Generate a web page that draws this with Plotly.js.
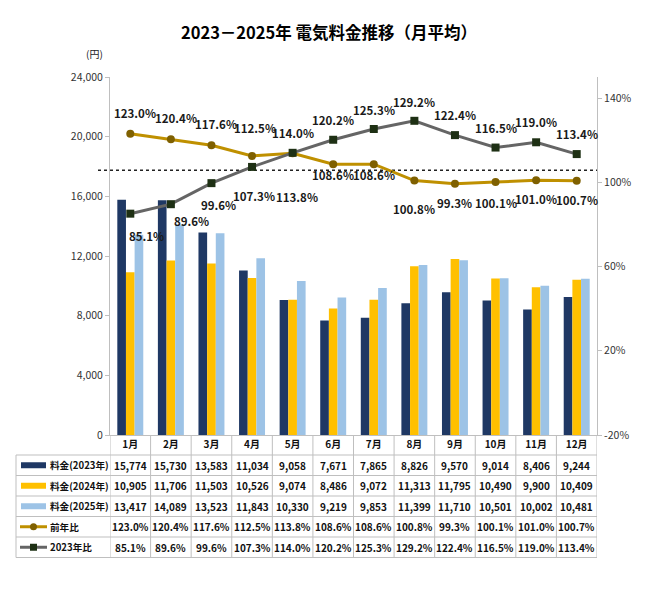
<!DOCTYPE html>
<html><head><meta charset="utf-8">
<script src="https://cdn.plot.ly/plotly-3.0.1.min.js"></script>
<style>html,body{margin:0;padding:0;background:#fff}#chart{width:650px;height:607px}</style>
</head><body><div id="chart"></div>
<script>
// ---- data ----
const months = ['1月','2月','3月','4月','5月','6月','7月','8月','9月','10月','11月','12月'];
const fee2023 = [15774,15730,13583,11034,9058,7671,7865,8826,9570,9014,8406,9244];
const fee2024 = [10905,11706,11503,10526,9074,8486,9072,11313,11795,10490,9900,10409];
const fee2025 = [13417,14089,13523,11843,10330,9219,9853,11399,11710,10501,10002,10481];
const yoyRatio = [123.0,120.4,117.6,112.5,113.8,108.6,108.6,100.8,99.3,100.1,101.0,100.7];
const vs2023Ratio = [85.1,89.6,99.6,107.3,114.0,120.2,125.3,129.2,122.4,116.5,119.0,113.4];
const seriesNames = ['料金(2023年)','料金(2024年)','料金(2025年)','前年比','2023年比'];
const leftTicks = [0,4000,8000,12000,16000,20000,24000];
const rightTicks = [-20,20,60,100,140];
const refLineYen = 17750;

// ---- styling / placement (pixels) ----
const W=650,H=607,L=110,R=597,T=77,B=435;
const px = X => (X-L)/(R-L);
const py = Y => (B-Y)/(B-T);
const FONT = '"Noto Sans CJK JP", "Noto Sans", sans-serif';
const C = {n:'#1F3864', y:'#FFC000', b:'#9DC3E6', gold:'#BF9000', goldM:'#7F6000', gray:'#656565', grayM:'#1E3014', grid:'#BFBFBF', txt:'#1a1a1a'};
const yoyDy = [-21,-21,-21,-28,44,11,11,28,19,21,19,19];
const yoyDx = [5,5,5,3,4,0,0,0,0,0,0,0];
const vsDy  = [22,17,22,29,-20,-20,-19,-19,-20,-20,-20,-20];
const vsDx  = [16,21,7,2,0,0,0,0,0,0,0,0];

const traces = [
  {type:'bar', x:months, y:fee2023, name:seriesNames[0], marker:{color:C.n}},
  {type:'bar', x:months, y:fee2024, name:seriesNames[1], marker:{color:C.y}},
  {type:'bar', x:months, y:fee2025, name:seriesNames[2], marker:{color:C.b}},
  {type:'scatter', mode:'lines+markers', x:months, y:yoyRatio, yaxis:'y2', name:seriesNames[3],
   line:{color:C.gold, width:3}, marker:{symbol:'circle', size:8, color:C.goldM}},
  {type:'scatter', mode:'lines+markers', x:months, y:vs2023Ratio, yaxis:'y2', name:seriesNames[4],
   line:{color:C.gray, width:3}, marker:{symbol:'square', size:8, color:C.grayM}}
];

const annotations = [];
const shapes = [];
const ctr = {xanchor:'center', yanchor:'middle', showarrow:false};
const lblFont = {family:FONT, size:11.5, color:C.txt, weight:'bold'};
// point labels
months.forEach((m,i)=>{
  annotations.push(Object.assign({xref:'x', yref:'y2', x:m, y:yoyRatio[i], text:yoyRatio[i].toFixed(1)+'%',
    xshift:yoyDx[i], yshift:-yoyDy[i], font:lblFont}, ctr));
  annotations.push(Object.assign({xref:'x', yref:'y2', x:m, y:vs2023Ratio[i], text:vs2023Ratio[i].toFixed(1)+'%',
    xshift:vsDx[i], yshift:-vsDy[i], font:lblFont}, ctr));
});

// reference dotted line
shapes.push({type:'line', xref:'paper', yref:'y', x0:px(98), x1:1, y0:refLineYen, y1:refLineYen,
  line:{color:'#222', width:1.5, dash:'dot'}, layer:'below'});

// data table
const rowBorders = [455,475.5,496,516.5,537,557.5];
const rows = [
  fee2023.map(v=>v.toLocaleString('en-US')),
  fee2024.map(v=>v.toLocaleString('en-US')),
  fee2025.map(v=>v.toLocaleString('en-US')),
  yoyRatio.map(v=>v.toFixed(1)+'%'),
  vs2023Ratio.map(v=>v.toFixed(1)+'%')
];
rowBorders.forEach(Y=>{
  shapes.push({type:'line', xref:'paper', yref:'paper', x0:px(16), x1:1, y0:py(Y), y1:py(Y), line:{color:C.grid, width:1}});
});
shapes.push({type:'line', xref:'paper', yref:'paper', x0:px(16), x1:px(16), y0:py(455), y1:py(557.5), line:{color:C.grid, width:1}});
for(let k=0;k<=months.length;k++){
  shapes.push({type:'line', xref:'x', yref:'paper', x0:k-0.5, x1:k-0.5, y0:0, y1:py(557.5), line:{color:C.grid, width:1}});
}
const cellFont = {family:FONT, size:10, color:'#111', weight:'bold'};
rows.forEach((row,r)=>{
  const Yc=(rowBorders[r]+rowBorders[r+1])/2;
  const cy = py(Yc);
  row.forEach((t,i)=>{
    annotations.push(Object.assign({xref:'x', yref:'paper', x:months[i], y:cy, text:t, font:cellFont}, ctr));
  });
  annotations.push({xref:'paper', yref:'paper', x:px(48), y:cy, xanchor:'left', yanchor:'middle', text:seriesNames[r], showarrow:false,
    font:{family:FONT, size:9.6, color:'#111', weight:'bold'}});
  if(r<3){
    const col=[C.n,C.y,C.b][r];
    shapes.push({type:'rect', xref:'paper', yref:'paper', x0:px(21), x1:px(46), y0:py(Yc-3), y1:py(Yc+3), fillcolor:col, line:{width:0}});
  } else {
    const lc = r===3?C.gold:C.gray, mc = r===3?C.goldM:C.grayM;
    shapes.push({type:'line', xref:'paper', yref:'paper', x0:px(20), x1:px(47), y0:py(Yc), y1:py(Yc), line:{color:lc, width:3}});
    shapes.push({type:r===3?'circle':'rect', xref:'paper', yref:'paper', x0:px(30), x1:px(37), y0:py(Yc+3.5), y1:py(Yc-3.5), fillcolor:mc, line:{width:0}});
  }
});
// unit label
annotations.push(Object.assign({xref:'paper', yref:'paper', x:px(94), y:py(53), text:'(円)', font:{family:FONT, size:10, color:'#222'}}, ctr));

const layout = {
  width:W, height:H, margin:{l:L, r:W-R, t:T, b:H-B, pad:0},
  paper_bgcolor:'#fff', plot_bgcolor:'rgba(0,0,0,0)', showlegend:false,
  font:{family:FONT, color:'#222'},
  title:{text:'2023－2025年 電気料金推移（月平均）', x:329/W, xanchor:'center', y:1-33/H, yanchor:'middle',
    font:{family:FONT, size:16.5, color:'#000', weight:'bold'}},
  barmode:'group', bargap:0.36, bargroupgap:0,
  xaxis:{type:'category', range:[-0.5, months.length-0.5], autorange:false, showline:true, linecolor:C.grid, linewidth:1, ticks:'', showgrid:false,
    tickfont:{family:FONT, size:10, color:'#111', weight:'bold'}, fixedrange:true, automargin:false},
  yaxis:{range:[0,24000], autorange:false, tickvals:leftTicks, tickformat:',d', showgrid:false, zeroline:false, showline:true, automargin:false,
    linecolor:C.grid, ticks:'outside', ticklen:4, tickcolor:C.grid, tickfont:{family:FONT, size:10.5, color:'#333'}},
  yaxis2:{overlaying:'y', side:'right', range:[-20,150], autorange:false, tickvals:rightTicks, ticktext:rightTicks.map(v=>v+'%'),
    showgrid:false, zeroline:false, showline:true, linecolor:C.grid, ticks:'outside', ticklen:4, tickcolor:C.grid, automargin:false,
    tickfont:{family:FONT, size:10.5, color:'#333'}},
  shapes:shapes, annotations:annotations
};
Plotly.newPlot('chart', traces, layout, {displayModeBar:false, staticPlot:true});
</script>
</body></html>
